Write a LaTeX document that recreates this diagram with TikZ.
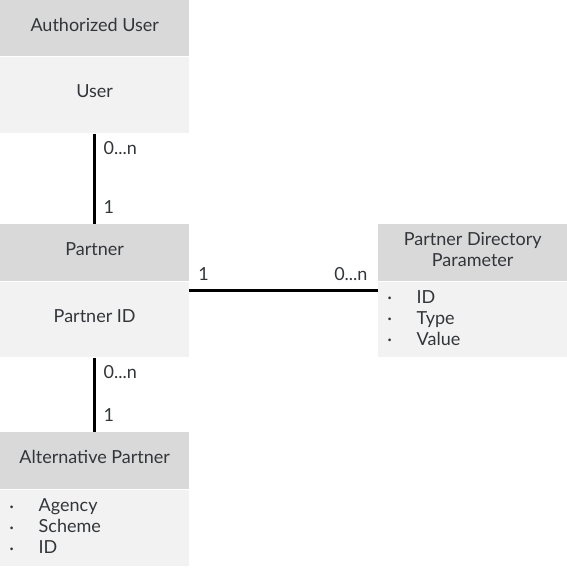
\documentclass[tikz,border=0pt]{standalone}
\usepackage{fontspec}
\setmainfont{Lato}
\usepackage{xcolor}
\usetikzlibrary{positioning}

\definecolor{headgray}{HTML}{D9D9D9}
\definecolor{bodygray}{HTML}{F2F2F2}
\definecolor{textgray}{HTML}{32363A}

\newcommand{\pitem}[1]{\makebox[29pt][l]{\raisebox{0.25ex}{\scalebox{0.4}{\textbullet}}}#1}

\begin{document}
\begin{tikzpicture}[x=1pt, y=-1pt,
		every node/.style={font=\fontsize{18}{21}\selectfont, text=textgray},
		head/.style={fill=headgray, minimum width=189pt, inner sep=0pt, align=center, text height=13pt, text depth=7pt},
		body/.style={fill=bodygray, minimum width=189pt, inner sep=0pt, align=center, text height=13pt, text depth=7pt},
		list/.style={fill=bodygray, minimum width=189pt, text width=170pt, inner ysep=0pt, inner xsep=9.5pt, align=left, text height=13pt, text depth=45pt},
		link/.style={line width=3pt, black},
		mult/.style={inner xsep=7.5pt, inner ysep=6.5pt}]
	
		\useasboundingbox (0,0) rectangle (567,568);
	
		% left column
		\node [head, minimum height=56pt, anchor=north west] (auth) at (0,0) {Authorized User};
		\node [body, minimum height=76pt, below=0pt of auth] (user) {User};
	
		\node [head, minimum height=57pt, anchor=north west] (partner) at (0,224) {Partner};
		\node [body, minimum height=75pt, below=0pt of partner] (partnerid) {Partner ID};
	
		\node [head, minimum height=57pt, anchor=north west] (alt) at (0,432) {Alternative Partner};
		\node [list, minimum height=76pt, below=0pt of alt] (altbody) {\pitem{Agency}\\ \pitem{Scheme}\\ \pitem{ID}};
	
		% right entity
		\node [head, minimum height=57pt, text height=34pt, anchor=north west] (pdp) at (378,224) {Partner Directory\\ Parameter};
		\node [list, minimum height=75pt, below=0pt of pdp] (pdpbody) {\pitem{ID}\\ \pitem{Type}\\ \pitem{Value}};
	
		\begin{scope}[link]
			\draw ([yshift=-1pt]user.south) -- (partner.north)
				node [mult, pos=0, anchor=north west] {0...n}
				node [mult, pos=1, anchor=south west, inner ysep=9pt] {1};
			\draw ([yshift=-1pt]partnerid.south) -- (alt.north)
				node [mult, pos=0, anchor=north west] {0...n}
				node [mult, pos=1, anchor=south west, inner ysep=9pt] {1};
			\draw ([yshift=-9.5pt]partnerid.north east) -- ([yshift=-9.5pt]pdpbody.north west)
				node [mult, pos=0, anchor=south west, inner ysep=9pt] {1}
				node [mult, pos=1, anchor=south east, inner ysep=9pt, inner xsep=9pt] {0...n};
		\end{scope}
	\end{tikzpicture}
\end{document}
